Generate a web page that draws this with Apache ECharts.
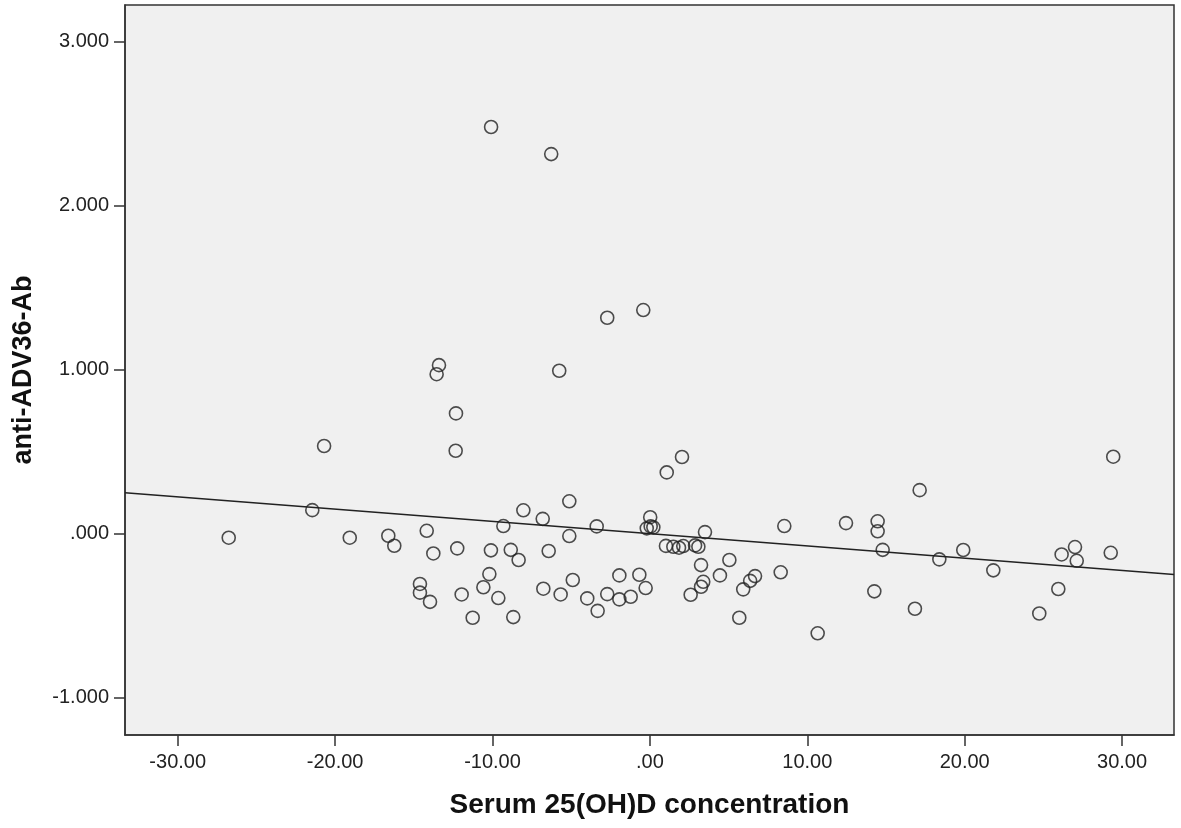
<!DOCTYPE html>
<html>
<head>
<meta charset="utf-8">
<script src="https://cdn.jsdelivr.net/npm/echarts@6/dist/echarts.min.js"></script>
<style>
  html, body { margin: 0; padding: 0; background: #fff; }
  #chart { width: 1181px; height: 828px; }
</style>
</head>
<body>
<div id="chart"></div>
<script>
// Serum 25(OH)D concentration (x) vs anti-ADV36-Ab (y)
const serumX = [
  -10.09, -6.27, -2.71, -0.42, -13.40, -13.55, -5.76, -12.32, -12.34, -20.70,
  1.07, 2.04, 17.14, 29.44, -21.45, -26.76, -19.07, -16.62, -16.24, -5.12,
  -8.04, -6.81, -9.31, -3.38, 0.02, -0.20, 0.22, 0.05, 3.50, -14.18,
  -13.76, -12.24, -10.10, -8.84, -8.34, -6.43, -5.12, 1.02, 1.49, 1.85,
  2.12, 2.87, 3.08, 3.25, 5.05, 4.45, 3.39, 3.25, 2.59, 5.93,
  5.68, -10.20, -10.58, -9.63, -14.61, -14.61, -13.97, -11.96, -11.26, -8.68,
  -6.77, -5.67, -4.90, -3.98, -3.32, -2.71, -1.94, -1.22, -1.94, -0.67,
  -0.27, 8.54, 12.46, 14.47, 14.47, 14.79, 18.39, 19.91, 21.82, 26.16,
  27.01, 27.12, 29.28, 25.95, 24.74, 16.84, 14.26, 10.66, 8.31, 6.68,
  6.37
];
const antibodyY = [
  2.480, 2.315, 1.317, 1.364, 1.028, 0.973, 0.994, 0.734, 0.506, 0.535,
  0.374, 0.468, 0.266, 0.470, 0.144, -0.024, -0.024, -0.012, -0.073, 0.198,
  0.143, 0.091, 0.047, 0.045, 0.101, 0.033, 0.039, 0.045, 0.010, 0.018,
  -0.120, -0.089, -0.101, -0.098, -0.160, -0.105, -0.014, -0.074, -0.079, -0.085,
  -0.075, -0.071, -0.079, -0.191, -0.160, -0.254, -0.293, -0.323, -0.372, -0.339,
  -0.512, -0.246, -0.326, -0.392, -0.306, -0.359, -0.415, -0.370, -0.512, -0.508,
  -0.335, -0.370, -0.282, -0.394, -0.470, -0.368, -0.400, -0.384, -0.254, -0.250,
  -0.331, 0.047, 0.065, 0.076, 0.015, -0.098, -0.156, -0.099, -0.223, -0.126,
  -0.081, -0.165, -0.116, -0.337, -0.486, -0.457, -0.351, -0.607, -0.235, -0.258,
  -0.287
];

// fit line ends at the plot edges
const fitX = [-33.35, 33.3];
const fitY = [0.250, -0.248];

const xTicks = [-30, -20, -10, 0, 10, 20, 30];
const yTicks = [-1, 0, 1, 2, 3];

const font = "'Liberation Sans', Arial, sans-serif";
const ink = "#222";

const chart = echarts.init(document.getElementById("chart"));
chart.setOption({
  animation: false,
  backgroundColor: "#fff",
  grid: {
    left: 125,
    top: 5,
    right: 7,
    bottom: 93,
    containLabel: false,
    outerBoundsMode: "none",
    show: true,
    backgroundColor: "#f0f0f0",
    borderColor: "#333",
    borderWidth: 1.5
  },
  xAxis: {
    type: "value",
    min: -33.35,
    max: 33.3,
    name: "Serum 25(OH)D concentration",
    nameLocation: "middle",
    nameGap: 56,
    nameTextStyle: { fontFamily: font, fontSize: 28, fontWeight: "bold", color: "#111" },
    axisLine: { show: true, onZero: false, lineStyle: { color: "#333", width: 1.5 } },
    axisTick: { show: true, length: 11, customValues: xTicks, lineStyle: { color: "#333", width: 1.5 } },
    axisLabel: {
      customValues: xTicks,
      margin: 17,
      fontFamily: font,
      fontSize: 20,
      color: ink,
      formatter: v => (v === 0 ? ".00" : v.toFixed(2))
    },
    splitLine: { show: false }
  },
  yAxis: {
    type: "value",
    min: -1.227,
    max: 3.224,
    name: "anti-ADV36-Ab",
    nameLocation: "middle",
    nameGap: 88,
    nameRotate: 90,
    nameTextStyle: { fontFamily: font, fontSize: 27, fontWeight: "bold", color: "#111" },
    axisLine: { show: true, onZero: false, lineStyle: { color: "#333", width: 1.5 } },
    axisTick: { show: true, length: 11, customValues: yTicks, lineStyle: { color: "#333", width: 1.5 } },
    axisLabel: {
      customValues: yTicks,
      margin: 16,
      fontFamily: font,
      fontSize: 20,
      color: ink,
      formatter: v => (v === 0 ? ".000" : v.toFixed(3))
    },
    splitLine: { show: false }
  },
  series: [
    {
      type: "scatter",
      data: serumX.map((x, i) => [x, antibodyY[i]]),
      symbol: "circle",
      symbolSize: 13,
      itemStyle: { color: "rgba(0,0,0,0)", borderColor: ink, borderWidth: 1.6 },
      z: 3
    },
    {
      type: "line",
      data: fitX.map((x, i) => [x, fitY[i]]),
      showSymbol: false,
      lineStyle: { color: ink, width: 1.5 },
      z: 2
    }
  ]
});
</script>
</body>
</html>
